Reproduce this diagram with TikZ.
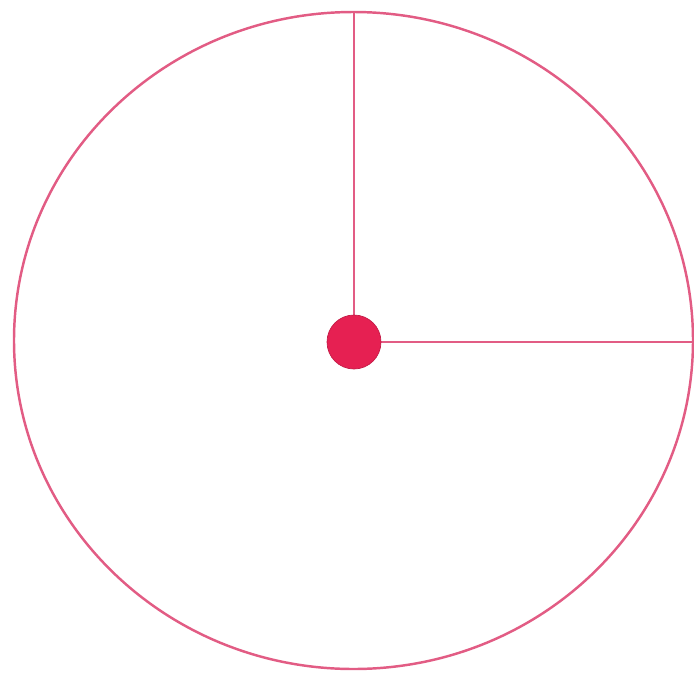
\documentclass[tikz,border=0pt]{standalone}
\usepackage{tikz}
\usetikzlibrary{calc}

\definecolor{rim}{RGB}{226,92,132}
\definecolor{hub}{RGB}{230,32,82}

\begin{document}
\begin{tikzpicture}[x=0.02cm, y=-0.02cm,
    rimline/.style={rim, line width=1.4pt},
    hubdot/.style={circle, fill=hub, draw=hub!85!black, line width=0.4pt, minimum size=1.08cm, inner sep=0pt}]
    \useasboundingbox (0,0) rectangle (694,677);

    \coordinate (C) at (354,342);
    \coordinate (Top) at (354,12);
    \coordinate (Right) at (693,342);

    \draw[rimline] (353.5,340.5) ellipse [x radius=339.5, y radius=328.5];

    \draw[rimline] (Top) -- (C);
    \draw[rimline] (C) -- (Right);

    \node[hubdot] (hub) at (C) {};
  \end{tikzpicture}
\end{document}
